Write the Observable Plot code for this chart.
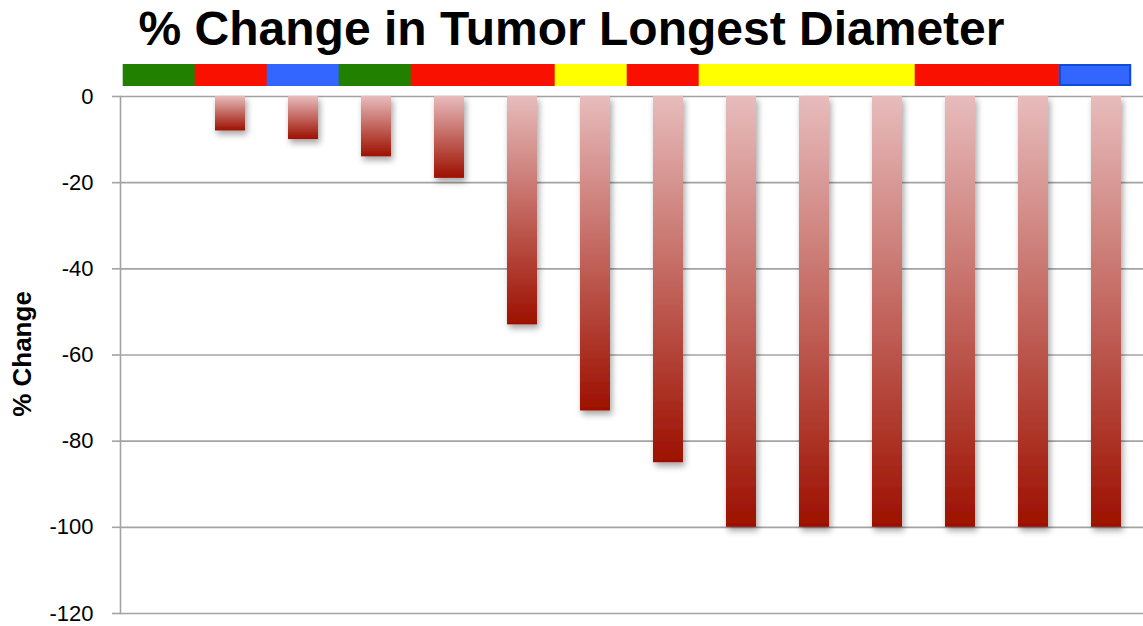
<!DOCTYPE html>
<html>
<head>
<meta charset="utf-8">
<script src="https://cdn.jsdelivr.net/npm/d3@7"></script>
<script src="https://cdn.jsdelivr.net/npm/@observablehq/plot@0.6"></script>
<style>
  html, body { margin: 0; padding: 0; background: #fff; }
  #chart { position: relative; width: 1143px; height: 626px; overflow: hidden; font-family: "Liberation Sans", Arial, sans-serif; background: #fff; }
  #title { position: absolute; left: 0; top: 5px; width: 1143px; text-align: center; font-size: 48px; line-height: 48px; font-weight: bold; color: #000; white-space: nowrap; z-index: 3; }
  #ylabel { position: absolute; left: 22px; top: 354px; transform: translate(-50%, -50%) rotate(-90deg); font-size: 26px; line-height: 26px; font-weight: bold; white-space: nowrap; color: #000; z-index: 3; }
  #strip { position: absolute; left: 0; top: 64px; z-index: 2; line-height: 0; }
  #main { position: absolute; left: 0; top: 76px; z-index: 1; line-height: 0; }
</style>
</head>
<body>
<div id="chart">
  <div id="title">% Change in Tumor Longest Diameter</div>
  <div id="strip"></div>
  <div id="main"></div>
  <div id="ylabel">% Change</div>
</div>
<script>
const patients = ["P1","P2","P3","P4","P5","P6","P7","P8","P9","P10","P11","P12","P13","P14"];
const changes = [0, -8, -10, -14, -19, -53, -73, -85, -100, -100, -100, -100, -100, -100];
const groups = ["green","red","blue","green","red","red","yellow","red","yellow","yellow","yellow","red","red","blue"];
const groupColors = {green: "#228000", red: "#fa1000", blue: "#3366ff", yellow: "#ffff00"};
const yTicks = [0, -20, -40, -60, -80, -100, -120];

const data = patients.map((p, i) => ({patient: p, change: changes[i], group: groups[i], index: i}));

// Colour strip
const strip = Plot.plot({
  width: 1143, height: 22,
  marginLeft: 121, marginRight: 10, marginTop: 0, marginBottom: 0,
  style: {background: "transparent"},
  x: {domain: patients, padding: 0, axis: null},
  marks: [
    Plot.cell(data, {x: "patient", fill: d => groupColors[d.group], stroke: d => groupColors[d.group], strokeWidth: 0.6}),
    Plot.cell(data.filter(d => d.index === patients.length - 1), {x: "patient", fill: "none", stroke: "#0b4fd6", strokeWidth: 2, inset: 1})
  ]
});
document.getElementById("strip").appendChild(strip);

// Main chart
const main = Plot.plot({
  width: 1143, height: 550,
  marginLeft: 120, marginRight: 0, marginTop: 20, marginBottom: 13,
  style: {fontFamily: "'Liberation Sans', Arial, sans-serif", fontSize: "22px", color: "#000", background: "transparent"},
  x: {domain: patients, paddingInner: 0.59, paddingOuter: 0.295, axis: null},
  y: {domain: [-120, 0], axis: null},
  marks: [
    Plot.gridY(yTicks, {stroke: "#a3a3a3", strokeOpacity: 1, strokeWidth: 1.6}),
    Plot.axisY(yTicks, {tickSize: 8, tickPadding: 19, stroke: "#a3a3a3", strokeWidth: 1.6, fill: "#000", fontSize: 22, tickFormat: d => String(d), label: null}),
    Plot.frame({anchor: "left", stroke: "#a3a3a3", strokeWidth: 1.6}),
    Plot.barY(data, {x: "patient", y: "change", fill: "url(#barGrad)"})
  ]
});

const svg = d3.select(main.tagName.toLowerCase() === "svg" ? main : main.querySelector("svg"));
const defs = svg.insert("defs", ":first-child");
const grad = defs.append("linearGradient").attr("id", "barGrad")
  .attr("x1", 0).attr("y1", 0).attr("x2", 0).attr("y2", 1);
grad.append("stop").attr("offset", "0%").attr("stop-color", "#e7bcbc");
grad.append("stop").attr("offset", "100%").attr("stop-color", "#9d1000");
const filt = defs.append("filter").attr("id", "shadow")
  .attr("x", "-50%").attr("y", "-50%").attr("width", "200%").attr("height", "200%");
filt.append("feDropShadow").attr("dx", 2).attr("dy", 4).attr("stdDeviation", 3)
  .attr("flood-color", "#000").attr("flood-opacity", 0.35);
svg.selectAll('g[aria-label="bar"] rect').attr("filter", "url(#shadow)");

document.getElementById("main").appendChild(main);
</script>
</body>
</html>
